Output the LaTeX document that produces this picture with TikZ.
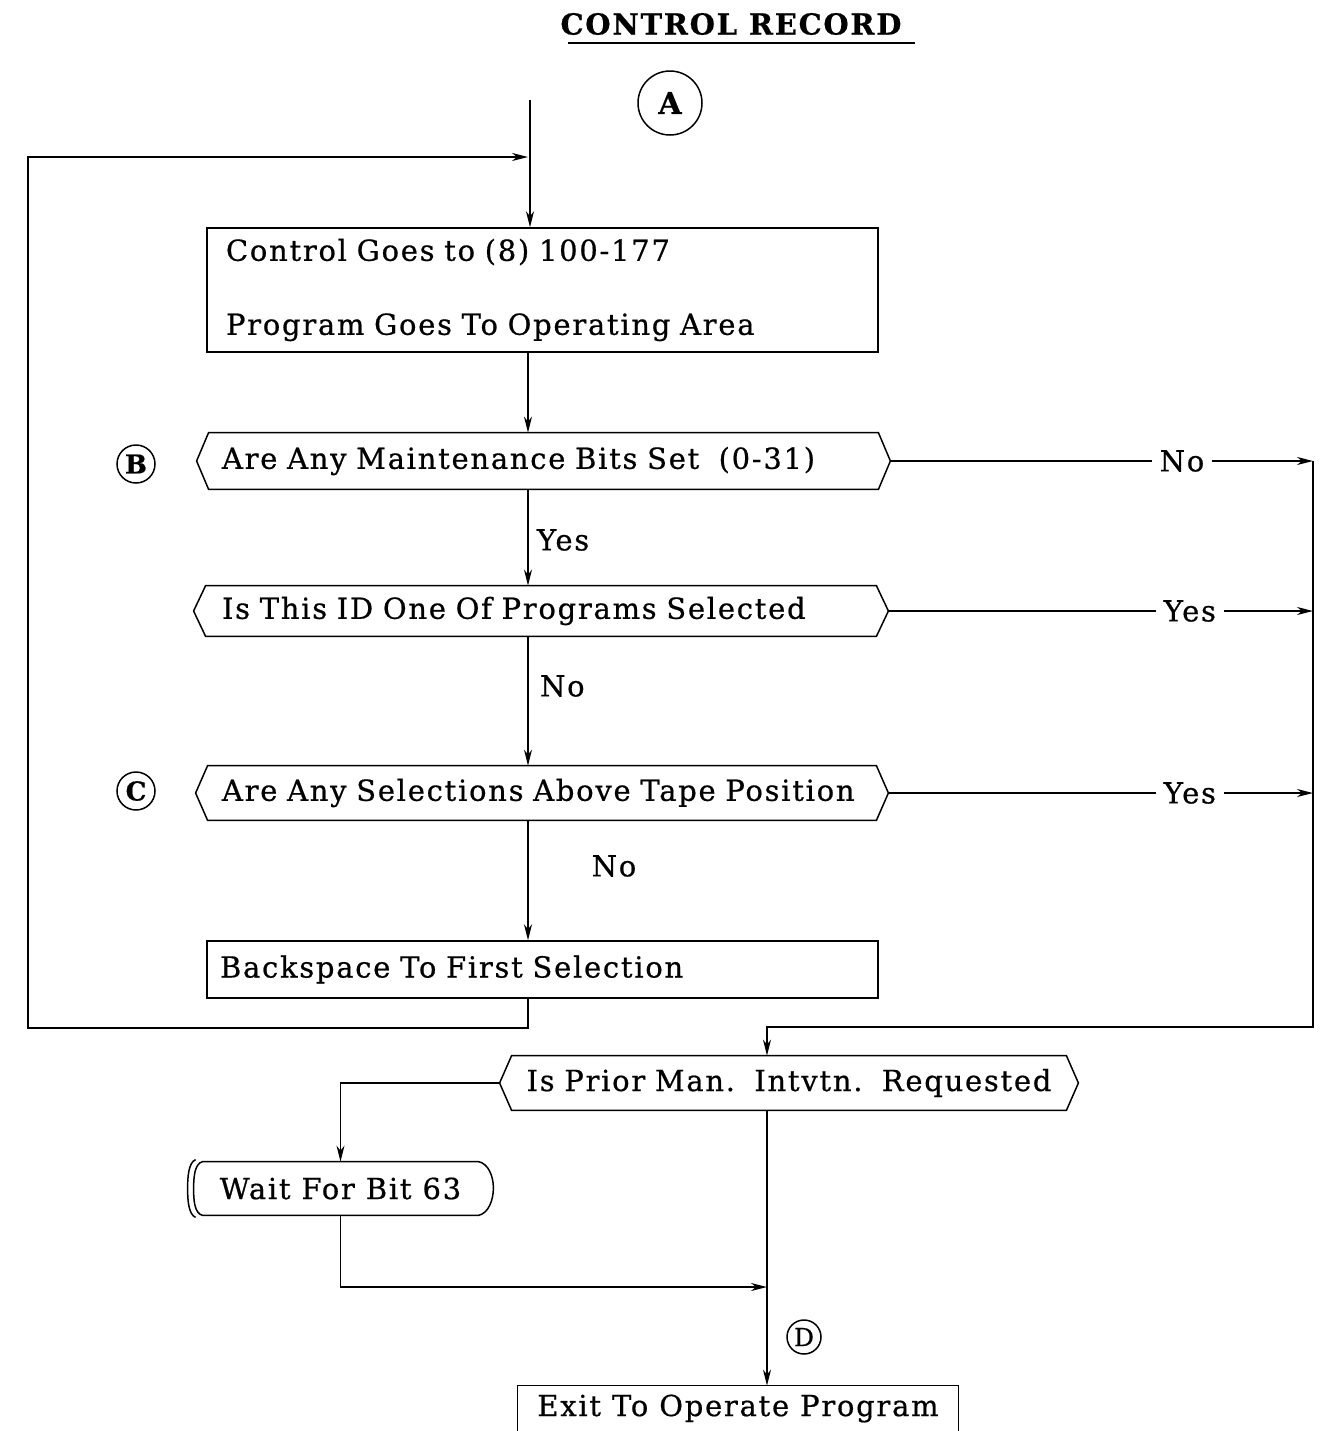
\documentclass[tikz,border=0pt]{standalone}
\usepackage{fontspec}
\setmainfont[LetterSpace=6,FakeBold=0.6]{DejaVu Serif}
\usetikzlibrary{arrows.meta,calc}
\newcommand\hexdraw[1]{%
  \draw[line] (#1.north west) -- (#1.north east) -- ([xshift=6pt]#1.east) coordinate (#1-r)
    -- (#1.south east) -- (#1.south west) -- ([xshift=-6pt]#1.west) coordinate (#1-l) -- cycle;}
\begin{document}
\begin{tikzpicture}[x=0.5pt,y=-0.5pt,
  every node/.style={font=\fontsize{14.5}{17}\selectfont},
  line/.style={line width=0.75pt},
  arr/.style={line, -{Stealth[length=8pt,width=4pt,inset=2.5pt]}},
  box/.style={draw, line width=0.75pt, rectangle, align=left, inner ysep=0pt},
  hexnode/.style={rectangle, align=left, inner ysep=0pt},
  conn/.style={circle, draw, line width=0.75pt, inner sep=0pt},
  lbl/.style={fill=white, inner xsep=4pt, inner ysep=1pt}]

\fill[white] (0,0) rectangle (1320,1431);
\useasboundingbox (0,0) rectangle (1320,1431);

% title
\node[font=\fontsize{14.5}{17}\selectfont\bfseries] (title) at (731,24) {CONTROL RECORD};
\draw[line] (568,43) -- (915,43);

% connector circles
\node[conn, minimum size=32pt, font=\fontsize{15}{17}\selectfont\bfseries] (A) at (670,103) {A};
\node[conn, minimum size=19pt, font=\fontsize{13}{15}\selectfont\bfseries] (B) at (136,464) {B};
\node[conn, minimum size=19pt, font=\fontsize{13}{15}\selectfont\bfseries] (C) at (136,791) {C};
\node[conn, minimum size=17pt, font=\fontsize{12.5}{14}\selectfont] (D) at (804,1337) {D};

% process boxes
\node[box, minimum width=335.5pt, minimum height=62pt, text width=316.5pt, inner xsep=9.5pt]
  (box1) at (542.5,290) {\mbox{Control Goes to (8) 100-177}\\[20pt]\mbox{Program Goes To Operating Area}};
\node[box, minimum width=335.5pt, minimum height=28.5pt, text width=322.5pt, inner xsep=6.5pt]
  (box2) at (542.5,969.5) {\mbox{Backspace To First Selection}};

% decisions
\node[hexnode, minimum height=28pt, text width=321.5pt, inner xsep=6.5pt]
  (hexB) at (543.5,461) {\mbox{Are Any Maintenance Bits Set~~(0-31)}};
\hexdraw{hexB}
\node[hexnode, minimum height=25pt, text width=319pt, inner xsep=8pt]
  (hex2) at (541,611) {\mbox{Is This ID One Of Programs Selected}};
\hexdraw{hex2}
\node[hexnode, minimum height=27pt, text width=320pt, inner xsep=7pt]
  (hex3) at (542,793) {\mbox{Are Any Selections Above Tape Position}};
\hexdraw{hex3}
\node[hexnode, align=center, minimum height=27pt, text width=265pt, inner xsep=6pt]
  (hex4) at (789,1083) {\mbox{Is Prior Man.\ \ Intvtn.\ \ Requested}};
\hexdraw{hex4}

% wait box
\node[hexnode, align=center, minimum height=26.5pt, minimum width=137.5pt, inner xsep=0pt]
  (wait) at (340.5,1188.5) {Wait For Bit 63};
\draw[line] (wait.north west) -- (wait.north east)
  .. controls +(10,2) and +(0,-12) .. ++(15,26.5)
  .. controls +(0,12) and +(10,-2) .. (wait.south east)
  -- (wait.south west)
  .. controls +(-8,-2) and +(0,12) .. ++(-9,-26.5)
  .. controls +(0,-12) and +(-8,2) .. (wait.north west);
\draw[line] ([xshift=-3.5pt,yshift=1pt]wait.north west)
  .. controls +(-7,3) and +(0,-12) .. ([xshift=-7.5pt]wait.west)
  .. controls +(0,12) and +(-7,-3) .. ([xshift=-3.5pt,yshift=-1pt]wait.south west);

% exit box
\node[hexnode, align=center, minimum width=220pt, minimum height=22.5pt, inner xsep=0pt]
  (exit) at (738,1408.5) {Exit To Operate Program};
\draw[line] (exit.south west) -- (exit.north west) -- (exit.north east) -- (exit.south east);

% coordinates
\coordinate (col) at (528,0);
\coordinate (topin) at (530,100);
\coordinate (loopb) at (28,1028);
\coordinate (loopt) at (28,157);
\coordinate (rbus) at (1313,0);
\coordinate (merge) at (767,1027);
\coordinate (junc) at (767,1287);

% main trunk
\draw[arr] (topin) -- (topin |- box1.north);
\draw[arr] (box1.south -| col) -- (hexB.north -| col);
\draw[arr] (hexB.south -| col) -- (hex2.north -| col);
\node[anchor=west] (yes1) at (530,540) {Yes};
\draw[arr] (hex2.south -| col) -- (hex3.north -| col);
\node[anchor=west] (no1) at (533,686) {No};
\draw[arr] (hex3.south -| col) -- (box2.north -| col);
\node (no2) at (614,866) {No};

% loop back
\draw[arr] (box2.south -| col) |- (loopb) -- (loopt) -- (loopt -| col);

% right branches
\draw[arr] (hexB-r) -- (hexB-r -| rbus) node[lbl, pos=0.69] (noR) {No};
\draw[arr] (hex2-r) -- (hex2-r -| rbus) node[lbl, pos=0.71] (yesR1) {Yes};
\draw[arr] (hex3-r) -- (hex3-r -| rbus) node[lbl, pos=0.71] (yesR2) {Yes};
\draw[arr] (hexB-r -| rbus) -- (rbus |- merge) -- (merge) -- (merge |- hex4.north);

% lower part
\draw[arr] (hex4-l) -| (wait.north);
\draw[arr] (wait.south) |- (junc);
\draw[arr] (hex4.south -| merge) -- (exit.north -| merge);

\end{tikzpicture}
\end{document}
